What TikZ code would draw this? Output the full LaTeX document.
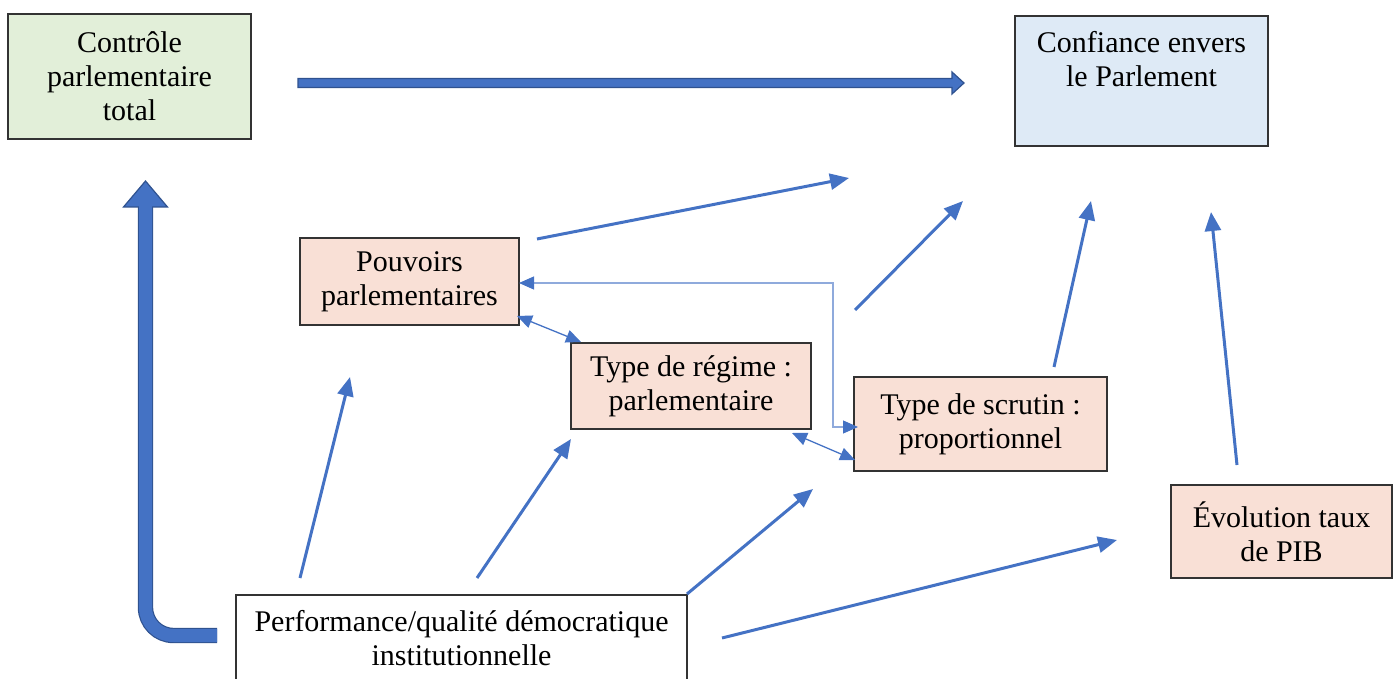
\documentclass[tikz,border=0pt]{standalone}
\usepackage{fontspec}
\setmainfont{Liberation Serif}
\usetikzlibrary{arrows.meta,positioning,calc}

\definecolor{arrowblue}{HTML}{4472C4}
\definecolor{arrowedge}{HTML}{2F528F}
\definecolor{elbowblue}{HTML}{8FAADC}
\definecolor{greenfill}{HTML}{E2EFD9}
\definecolor{bluefill}{HTML}{DEEAF6}
\definecolor{pinkfill}{HTML}{F9E0D6}

\tikzset{
  box/.style={draw=black!80, line width=1.1pt, align=center, inner sep=0pt,
    font=\fontsize{30}{34}\selectfont},
  link/.style={draw=arrowblue, line width=3pt, -{Triangle[length=19pt,width=16pt]}},
  twoway/.style={draw=arrowblue, line width=1.3pt,
    {Triangle[length=15pt,width=13pt]}-{Triangle[length=15pt,width=13pt]}},
  elbow/.style={draw=elbowblue, line width=1.2pt,
    {Triangle[length=15pt,width=13pt,color=arrowblue]}-{Triangle[length=15pt,width=13pt,color=arrowblue]}},
  bigarrow/.style={fill=arrowblue, draw=arrowedge, line width=1.2pt, line join=miter},
  bigedge/.style={draw=arrowedge, line width=15.4pt, rounded corners=28pt},
  bigshaft/.style={draw=arrowblue, line width=13pt, rounded corners=28pt}
}

\begin{document}
\begin{tikzpicture}[x=1pt,y=-1pt]
\useasboundingbox (0,0) rectangle (1393,679);

% boxes
\node[box, fill=greenfill, minimum width=243pt, minimum height=125pt] (ctrl) at (129.5,76.5)
  {Contrôle\\parlementaire\\total};
\node[box, fill=bluefill, minimum width=253pt, minimum height=130pt] (conf) at (1141.5,81) {};
\node[align=center, inner sep=0pt, anchor=north, font=\fontsize{30}{34}\selectfont] (conftext)
  at (1141.5,31.5) {Confiance envers\\le Parlement};
\node[box, fill=pinkfill, minimum width=219pt, minimum height=87pt] (pouv) at (409.5,281.5)
  {Pouvoirs\\parlementaires};
\node[box, fill=pinkfill, minimum width=240pt, minimum height=86pt] (regime) at (691,386)
  {Type de régime :\\parlementaire};
\node[box, fill=pinkfill, minimum width=253pt, minimum height=94pt] (scrutin) at (980.5,424)
  {Type de scrutin :\\proportionnel};
\node[box, fill=pinkfill, minimum width=221pt, minimum height=93pt] (pib) at (1281.5,531.5)
  {Évolution taux\\de PIB};
\node[box, fill=white, minimum width=451pt, minimum height=86pt] (perf) at (461.5,638)
  {Performance/qualité démocratique\\institutionnelle};

% free ends of the arrows
\coordinate (hs) at (298,83);
\coordinate (ls) at (217,635.5);
\coordinate (lh) at (145.5,207);
\coordinate (a1s) at (537,239);   \coordinate (a1e) at (849,178);
\coordinate (a2s) at (855,310);   \coordinate (a2e) at (963,201);
\coordinate (a3s) at (1054,367);  \coordinate (a3e) at (1091,201);
\coordinate (a4s) at (1237,465);  \coordinate (a4e) at (1211,212);
\coordinate (a5s) at (300,578);   \coordinate (a5e) at (350,377);
\coordinate (a6s) at (477,578);   \coordinate (a6e) at (571,439);
\coordinate (a7s) at (687,594);   \coordinate (a7e) at (813,489);
\coordinate (a8s) at (722,638);   \coordinate (a8e) at (1117,540);
\coordinate (d1a) at (517,316);   \coordinate (d1b) at (581,342);
\coordinate (d2a) at (792,433);   \coordinate (d2b) at (855,460);
\coordinate (elbA) at (519,283);  \coordinate (elbB) at (858,427);

% thick arrows
\filldraw[bigarrow] (hs) ++(0,-4.5) -- ++(654,0) -- ++(0,-6.5) -- ++(12,11)
  -- ++(-12,11) -- ++(0,-6.5) -- ++(-654,0) -- cycle;
\draw[bigedge] (ls) -| (lh);
\filldraw[bigarrow] (lh) ++(-22,0) -- ++(22,-26) -- ++(22,26) -- cycle;
\draw[bigshaft] (ls) -| ($(lh)+(0,-1)$);

% thin arrows
\draw[link] (a1s) -- (a1e);
\draw[link] (a2s) -- (a2e);
\draw[link] (a3s) -- (a3e);
\draw[link] (a4s) -- (a4e);
\draw[link] (a5s) -- (a5e);
\draw[link] (a6s) -- (a6e);
\draw[link] (a7s) -- (a7e);
\draw[link] (a8s) -- (a8e);

% links between the factors
\draw[twoway] (d1a) -- (d1b);
\draw[twoway] (d2a) -- (d2b);
\draw[elbow] (elbA) -| ++(314,144) -- (elbB);
\end{tikzpicture}
\end{document}
